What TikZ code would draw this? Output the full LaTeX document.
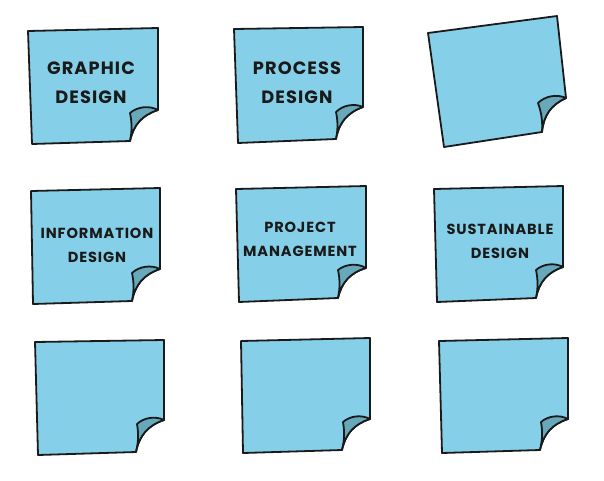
\documentclass[tikz,border=0pt]{standalone}
\usepackage{fontspec}
\newfontfamily\notefont[LetterSpace=6]{Poppins}
\usetikzlibrary{calc}
\definecolor{notebody}{HTML}{85D0E8}
\definecolor{noteflap}{HTML}{67A8BA}
\definecolor{noteline}{HTML}{1A1A1A}
\tikzset{
  notebodystyle/.style={fill=notebody, draw=noteline, line width=1.8pt},
  noteflapstyle/.style={fill=noteflap, draw=noteline, line width=1.8pt},
  bigtxt/.style={font=\notefont\bfseries\fontsize{17.8}{29}\selectfont, text=noteline, align=center, inner sep=0pt},
  midtxt/.style={font=\notefont\bfseries\fontsize{14.6}{24}\selectfont, text=noteline, align=center, inner sep=0pt},
}
% #1 name, #2 top-left, #3 top-right, #4 right end, #5 curl bottom, #6 bottom-left, #7 flap inner point
\newcommand\stickynote[7]{%
  \coordinate (#1tl) at (#2);
  \coordinate (#1tr) at (#3);
  \coordinate (#1r) at (#4);
  \coordinate (#1c) at (#5);
  \coordinate (#1bl) at (#6);
  \coordinate (#1i) at (#7);
  \path[notebodystyle] (#1tl) -- (#1tr) -- (#1r)
    .. controls ($(#1r)!0.4!-30:(#1c)$) and ($(#1c)!0.4!30:(#1r)$) .. (#1c)
    -- (#1bl) -- cycle;
  \path[noteflapstyle] (#1i)
    .. controls ($(#1i)!0.35!35:(#1r)$) and ($(#1r)!0.35!-35:(#1i)$) .. (#1r)
    .. controls ($(#1r)!0.4!-30:(#1c)$) and ($(#1c)!0.4!30:(#1r)$) .. (#1c)
    .. controls ($(#1c)!0.35!-12:(#1i)$) and ($(#1i)!0.35!12:(#1c)$) .. (#1i) -- cycle;
}
\begin{document}
\begin{tikzpicture}[x=1pt,y=-1pt,line join=round,line cap=round]
\useasboundingbox (0,0) rectangle (604,480);
\stickynote{n1}{28,31}{158,28}{158,110}{130,141}{32,144}{130,113}
\stickynote{n2}{234,29}{363,27}{363,107}{336,139}{238,143}{336,112}
\stickynote{n3}{428,33}{557,16}{566,98}{542,132}{444,147}{538,103}
\stickynote{n4}{31,191}{160,188}{160,269}{132,301}{33,304}{132,273}
\stickynote{n5}{236,189}{366,186}{366,268}{338,298}{239,302}{338,270}
\stickynote{n6}{434,189}{563,186}{563,267}{536,298}{437,302}{536,270}
\stickynote{n7}{35,342}{164,340}{164,420}{136,452}{38,455}{137,424}
\stickynote{n8}{241,341}{370,338}{370,419}{342,450}{243,453}{343,422}
\stickynote{n9}{439,341}{568,338}{568,419}{540,450}{442,453}{541,422}
\node[bigtxt] (t1) at (91,82.5) {GRAPHIC\\DESIGN};
\node[bigtxt] (t2) at (297,82.5) {PROCESS\\DESIGN};
\node[midtxt] (t4) at (97,245) {INFORMATION\\DESIGN};
\node[midtxt] (t5) at (300,239) {PROJECT\\MANAGEMENT};
\node[midtxt] (t6) at (500,241.5) {SUSTAINABLE\\DESIGN};
\end{tikzpicture}
\end{document}
